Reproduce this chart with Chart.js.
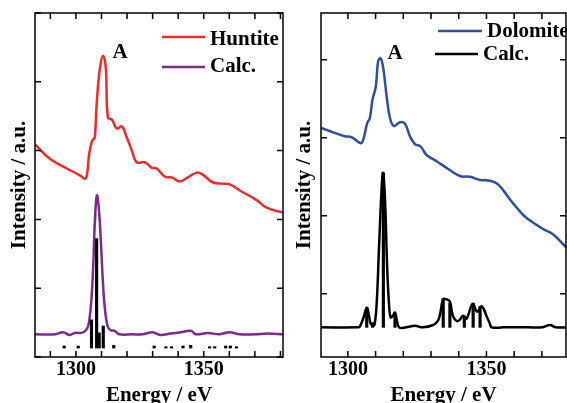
<!DOCTYPE html>
<html lang="en">
<head>
    <meta charset="UTF-8">
    <title>Huntite / Dolomite spectra</title>
    <script src="https://cdn.jsdelivr.net/npm/chart.js"></script>
    <style>
        body {
            margin: 0;
            width: 567px;
            height: 403px;
            overflow: hidden;
            background: #fff;
            position: relative;
        }
        canvas { position: absolute; top: 0; }
        #leftChart { left: 0; }
        #rightChart { left: 290px; }
    </style>
</head>
<body>
    <canvas id="leftChart" width="290" height="410"></canvas>
    <canvas id="rightChart" width="290" height="410"></canvas>

<script>
// ---- left panel: Huntite ----
const huntiteE = [1284.0, 1289.8, 1296.5, 1302.0, 1303.5, 1304.3, 1305.2, 1306.3, 1307.0, 1307.4, 1308.2, 1309.4, 1310.6, 1311.7, 1312.5, 1314.1, 1316.0, 1318.0, 1319.9, 1321.9, 1323.8, 1327.0, 1329.7, 1331.6, 1334.8, 1337.5, 1340.6, 1343.8, 1347.3, 1349.6, 1353.5, 1357.4, 1360.2, 1364.1, 1370.7, 1374.6, 1381.0];
const huntiteI = [3.09, 2.88, 2.74, 2.63, 2.59, 2.64, 2.95, 3.14, 3.17, 3.19, 3.72, 4.20, 4.38, 4.20, 3.48, 3.45, 3.32, 3.35, 3.19, 3.00, 2.83, 2.83, 2.75, 2.74, 2.62, 2.61, 2.55, 2.61, 2.68, 2.65, 2.54, 2.52, 2.51, 2.42, 2.28, 2.17, 2.10];

const huntiteCalcE = [1284, 1292, 1295, 1297.5, 1299.5, 1301, 1303, 1304.5, 1305.3, 1306.1, 1306.8, 1307.4, 1308.2, 1309.1, 1310.0, 1310.7, 1311.4, 1312.4, 1313.5, 1315.2, 1317, 1322, 1326, 1330, 1333, 1337, 1341, 1345, 1347, 1351.6, 1356, 1360, 1364, 1370, 1375, 1381];
const huntiteCalcI = [0.33, 0.33, 0.36, 0.32, 0.35, 0.35, 0.36, 0.42, 0.55, 0.85, 1.35, 1.95, 2.35, 2.10, 1.50, 1.00, 0.68, 0.45, 0.39, 0.38, 0.33, 0.33, 0.33, 0.36, 0.32, 0.34, 0.36, 0.38, 0.33, 0.35, 0.33, 0.36, 0.33, 0.33, 0.34, 0.33];

const huntiteStickE = [1295.4, 1300.9, 1306.1, 1308.1, 1309.1, 1310.7, 1314.8, 1330.6, 1335.2, 1337.4, 1341.9, 1344.9, 1352.3, 1354.3, 1358.6, 1360.4, 1362.8];
const huntiteStickH = [0.16, 0.16, 0.54, 1.72, 0.35, 0.45, 0.17, 0.16, 0.15, 0.15, 0.16, 0.17, 0.15, 0.15, 0.16, 0.16, 0.15];
const huntiteStickBase = 0.13;

// ---- right panel: Dolomite ----
const dolomiteE = [1290.1, 1294.7, 1298.9, 1301.3, 1304.6, 1305.5, 1307.0, 1307.9, 1308.9, 1310.1, 1310.9, 1311.8, 1312.7, 1314.0, 1315.2, 1316.6, 1318.8, 1320.6, 1322.4, 1324.2, 1326.2, 1328.4, 1332.0, 1336.2, 1340.4, 1344.0, 1347.7, 1351.3, 1354.3, 1358.5, 1363.3, 1366.9, 1370.5, 1374.1, 1378.9, 1380.0];
const dolomiteI = [3.13, 3.07, 3.02, 3.01, 2.93, 2.97, 3.19, 3.25, 3.49, 3.66, 3.98, 4.02, 3.91, 3.53, 3.25, 3.15, 3.20, 3.18, 3.02, 2.92, 2.89, 2.78, 2.70, 2.60, 2.51, 2.50, 2.46, 2.45, 2.40, 2.21, 2.01, 1.91, 1.83, 1.76, 1.59, 1.55];

const dolomiteCalcE = [1290.1, 1303.7, 1304.3, 1305.5, 1306.8, 1307.6, 1308.2, 1309.1, 1309.7, 1310.4, 1311.3, 1312.2, 1312.7, 1313.4, 1314.2, 1314.9, 1315.4, 1316.1, 1317.0, 1317.6, 1318.5, 1321, 1324.2, 1327, 1330.8, 1332.4, 1333.2, 1334.4, 1335.6, 1336.8, 1338.0, 1339.8, 1341.6, 1342.8, 1345.0, 1346.7, 1348.3, 1350.1, 1351.2, 1351.9, 1356, 1365, 1370, 1372.9, 1375, 1380];
const dolomiteCalcI = [0.57, 0.57, 0.58, 0.68, 0.82, 0.72, 0.62, 0.59, 0.62, 0.88, 1.65, 2.37, 2.55, 2.20, 1.31, 0.83, 0.70, 0.71, 0.76, 0.67, 0.57, 0.57, 0.59, 0.57, 0.60, 0.65, 0.73, 0.93, 0.93, 0.90, 0.71, 0.65, 0.72, 0.68, 0.87, 0.77, 0.84, 0.71, 0.62, 0.57, 0.57, 0.57, 0.57, 0.60, 0.57, 0.57];

const dolomiteStickE = [1306.8, 1308.9, 1312.8, 1317.0, 1334.4, 1336.8, 1342.0, 1345.2, 1347.7];
const dolomiteStickH = [0.82, 0.63, 2.55, 0.73, 0.94, 0.88, 0.71, 0.88, 0.84];
const dolomiteStickBase = 0.57;

const tickLabels = [1300, 1350];

const serif = "'Liberation Serif', 'Times New Roman', serif";

const pts = (xs, ys) => xs.map((x, i) => ({ x: x, y: ys[i] }));
const sticks = (xs, hs, base) => xs.map((x, i) => ({ x: x, y: [base, hs[i]] }));

// box + inward ticks on all four sides
const framePlugin = {
    id: 'frame',
    afterDatasetsDraw(chart) {
        const { ctx, chartArea: a, scales: { x, y } } = chart;
        const len = 6;
        ctx.save();
        ctx.strokeStyle = '#000';
        ctx.lineWidth = 1.5;
        ctx.beginPath();
        x.ticks.forEach(t => {
            const px = x.getPixelForValue(t.value);
            ctx.moveTo(px, a.bottom); ctx.lineTo(px, a.bottom - len);
            ctx.moveTo(px, a.top); ctx.lineTo(px, a.top + len);
        });
        y.ticks.forEach(t => {
            const py = y.getPixelForValue(t.value);
            ctx.moveTo(a.left, py); ctx.lineTo(a.left + len, py);
            ctx.moveTo(a.right, py); ctx.lineTo(a.right - len, py);
        });
        ctx.stroke();
        ctx.strokeRect(a.left, a.top, a.right - a.left, a.bottom - a.top);
        ctx.restore();
    }
};

// legend lines + labels, and the peak "A"
const notesPlugin = {
    id: 'notes',
    afterDraw(chart, args, opts) {
        const ctx = chart.ctx;
        ctx.save();
        ctx.font = 'bold 21px ' + serif;
        ctx.textBaseline = 'middle';
        ctx.fillStyle = '#000';
        opts.legend.forEach(item => {
            const ds = chart.data.datasets[item.index];
            ctx.strokeStyle = ds.borderColor;
            ctx.lineWidth = 2.5;
            ctx.beginPath();
            ctx.moveTo(item.x1, item.lineY);
            ctx.lineTo(item.x2, item.lineY);
            ctx.stroke();
            ctx.fillText(ds.label, item.textX, item.textY);
        });
        ctx.textAlign = 'center';
        ctx.fillText('A', opts.peak.x, opts.peak.y);
        ctx.restore();
    }
};

function makeChart(id, cfg) {
    return new Chart(document.getElementById(id), {
        type: 'line',
        data: { datasets: cfg.datasets },
        options: {
            responsive: false,
            animation: false,
            devicePixelRatio: 1,
            layout: { padding: { top: 13, right: cfg.padRight, left: 0, bottom: 0 } },
            elements: { point: { radius: 0 }, line: { tension: 0.4 } },
            scales: {
                x: {
                    type: 'linear',
                    min: cfg.xMin,
                    max: cfg.xMax,
                    offset: false,
                    grid: { display: false, drawTicks: false, offset: false },
                    border: { display: false },
                    ticks: {
                        stepSize: 10,
                        includeBounds: false,
                        autoSkip: false,
                        maxRotation: 0,
                        padding: 1,
                        color: '#000',
                        font: { family: serif, size: 20, weight: 'bold' },
                        callback: v => tickLabels.includes(v) ? String(v) : ''
                    },
                    title: {
                        display: true,
                        text: 'Energy / eV',
                        color: '#000',
                        font: { family: serif, size: 21, weight: 'bold' },
                        padding: { top: 0, bottom: 1.4 }
                    },
                    afterFit: s => { s.height = 53; }
                },
                y: {
                    type: 'linear',
                    min: cfg.yMin,
                    max: cfg.yMax,
                    grid: { display: false, drawTicks: false },
                    border: { display: false },
                    ticks: { display: false, stepSize: 1, includeBounds: false },
                    title: {
                        display: true,
                        text: 'Intensity / a.u.',
                        color: '#000',
                        font: { family: serif, size: 21, weight: 'bold' },
                        padding: { top: cfg.yTitlePad, bottom: 0 }
                    },
                    afterFit: s => { s.width = cfg.yWidth; }
                }
            },
            plugins: {
                legend: { display: false },
                tooltip: { enabled: false },
                notes: { legend: cfg.legend, peak: cfg.peak }
            }
        },
        plugins: [framePlugin, notesPlugin]
    });
}

makeChart('leftChart', {
    xMin: 1284, xMax: 1381, yMin: 0, yMax: 5,
    padRight: 7, yWidth: 35, yTitlePad: 7.4,
    datasets: [
        {
            label: 'Huntite', data: pts(huntiteE, huntiteI),
            borderColor: '#ee2a2a', borderWidth: 2.5, order: 3
        },
        {
            label: 'Calc.', data: pts(huntiteCalcE, huntiteCalcI),
            borderColor: '#7d2a8a', borderWidth: 2.5, order: 2
        },
        {
            type: 'bar', label: 'sticks', data: sticks(huntiteStickE, huntiteStickH, huntiteStickBase),
            backgroundColor: '#000', borderWidth: 0, barThickness: 2.5, grouped: false, order: 1
        }
    ],
    legend: [
        { index: 0, x1: 162, x2: 205, lineY: 37, textX: 210, textY: 40 },
        { index: 1, x1: 162, x2: 205, lineY: 67, textX: 210, textY: 67 }
    ],
    peak: { x: 120, y: 53 }
});

makeChart('rightChart', {
    xMin: 1290.3, xMax: 1378.7, yMin: 0.19, yMax: 4.6,
    padRight: 14, yWidth: 31, yTitlePad: 2.4,
    datasets: [
        {
            label: 'Dolomite', data: pts(dolomiteE, dolomiteI),
            borderColor: '#2f4ea0', borderWidth: 2.5, order: 1
        },
        {
            label: 'Calc.', data: pts(dolomiteCalcE, dolomiteCalcI),
            borderColor: '#000', borderWidth: 2.5, order: 2
        },
        {
            type: 'bar', label: 'sticks', data: sticks(dolomiteStickE, dolomiteStickH, dolomiteStickBase),
            backgroundColor: '#000', borderWidth: 0, barThickness: 2.5, grouped: false, order: 3
        }
    ],
    legend: [
        { index: 0, x1: 148, x2: 192, lineY: 31, textX: 197, textY: 32 },
        { index: 1, x1: 145, x2: 188, lineY: 54, textX: 193, textY: 55 }
    ],
    peak: { x: 105, y: 54 }
});
</script>
</body>
</html>
